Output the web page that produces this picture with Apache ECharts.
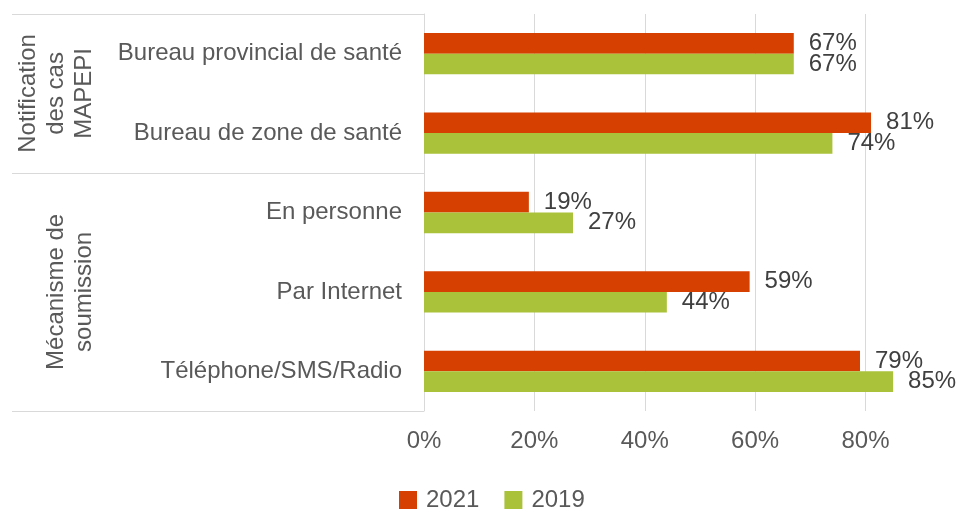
<!DOCTYPE html>
<html>
<head>
<meta charset="utf-8">
<script src="https://cdn.jsdelivr.net/npm/echarts@6/dist/echarts.min.js"></script>
<style>
  html, body { margin: 0; padding: 0; background: #fff; }
  #chart { width: 961px; height: 514px; }
</style>
</head>
<body>
<div id="chart"></div>
<script>
'use strict';
// categories, top to bottom
var categories = ['Bureau provincial de santé', 'Bureau de zone de santé', 'En personne', 'Par Internet', 'Téléphone/SMS/Radio'];
var seriesNames = ['2021', '2019'];
var values2021 = [67, 81, 19, 59, 79];
var values2019 = [67, 74, 27, 44, 85];
// group labels and where the groups start/end (in category units)
var groupNames = ['Notification\ndes cas\nMAPEPI', 'Mécanisme de\nsoumission'];
var groupCenters = [1, 3.5];
var groupBounds = [0, 2, 5];

var chartOpts = null;

function init() {
    var dom = document.getElementById('chart');
    var font = 'Liberation Sans, Arial, sans-serif';
    var option = {
        animation: false,
        color: ['#D64000', '#A9C23A'],
        textStyle: { fontFamily: font },
        grid: {
            left: 424,
            right: 0,
            top: 14,
            height: 397,
            containLabel: false,
        },
        legend: {
            data: seriesNames,
            left: 399,
            top: 488,
            padding: 0,
            icon: 'rect',
            itemWidth: 18,
            itemHeight: 18,
            itemGap: 25,
            textStyle: { fontSize: 24, color: '#595959', padding: [0, 0, 0, 4] },
        },
        xAxis: {
            type: 'value',
            min: 0,
            max: 97.3, // the 100% line falls just past the right edge
            interval: 20,
            axisLine: { show: false },
            axisTick: { show: false },
            axisLabel: {
                formatter: '{value}%',
                fontSize: 24,
                color: '#595959',
                margin: 18,
                showMaxLabel: false,
            },
            splitLine: { showMaxLine: false, lineStyle: { color: '#D9D9D9', width: 1 } },
        },
        yAxis: [
            {
                type: 'category',
                data: categories,
                inverse: true,
                axisLine: { show: true, lineStyle: { color: '#D9D9D9' } },
                axisTick: { show: false },
                axisLabel: { fontSize: 24, color: '#595959', margin: 22 },
            },
            {
                // group column on the left
                type: 'value',
                min: 0,
                max: 5,
                inverse: true,
                position: 'left',
                axisLine: { show: false },
                splitLine: { show: false },
                axisTick: {
                    show: true,
                    length: 412,
                    customValues: groupBounds,
                    lineStyle: { color: '#D9D9D9', width: 1 },
                },
                axisLabel: {
                    customValues: groupCenters,
                    rotate: 90,
                    margin: 326,
                    fontSize: 24,
                    lineHeight: 28,
                    color: '#595959',
                    formatter: function (v) {
                        var i = groupCenters.indexOf(v);
                        return i >= 0 ? groupNames[i] : '';
                    },
                },
            },
        ],
        series: [
            {
                name: seriesNames[0],
                type: 'bar',
                data: values2021,
                barGap: 0,
                barCategoryGap: '48%',
                label: {
                    show: true,
                    position: 'right',
                    distance: 15,
                    formatter: '{c}%',
                    fontSize: 24,
                    color: '#404040',
                },
            },
            {
                name: seriesNames[1],
                type: 'bar',
                data: values2019,
                barGap: 0,
                barCategoryGap: '48%',
                label: {
                    show: true,
                    position: 'right',
                    distance: 15,
                    formatter: '{c}%',
                    fontSize: 24,
                    color: '#404040',
                },
            },
        ],
    };
    chartOpts = echarts.init(dom);
    chartOpts.setOption(option);
}

(function () {
    init();
})();
</script>
</body>
</html>
